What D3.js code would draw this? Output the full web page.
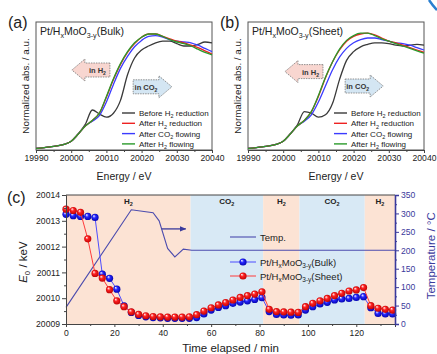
<!DOCTYPE html>
<html lang="en">
<head>
<meta charset="UTF-8">
<title>XANES and E0</title>
<style>
  body { margin: 0; background: #fff; }
  svg { display: block; font-family: "Liberation Sans", Arial, sans-serif; }
  .axis path, .axis line { stroke: #444; }
  .axis text { font-size: 8.6px; fill: #222; font-family: "Liberation Sans", Arial, sans-serif; }
  .raxis path, .raxis line { stroke: #3a3a9c; }
  .raxis text { font-size: 8.6px; fill: #3a3a9c; font-family: "Liberation Sans", Arial, sans-serif; }
</style>
</head>
<body>
<svg id="chart" width="437" height="354"></svg>
<script src="https://d3js.org/d3.v7.min.js"></script>
<script>
// ---- panels (a), (b): XANES spectra ----
var energy = [19990, 19994, 19998, 20000, 20002, 20004, 20006, 20008, 20010, 20012, 20014, 20016,
              20018, 20020, 20022, 20024, 20026, 20028, 20030, 20032, 20034, 20036, 20038, 20040];
var energyTicks = [19990, 20000, 20010, 20020, 20030, 20040];
var spectraNames = ['Before H2 reduction', 'After H2 reduction', 'After CO2 flowing', 'After H2 flowing'];

var bulkBefore  = [0.02, 0.04, 0.07, 0.11, 0.20, 0.32, 0.50, 0.45, 0.41, 0.46, 0.62, 0.94, 1.15, 1.25, 1.30, 1.34, 1.36, 1.36, 1.33, 1.30, 1.30, 1.32, 1.35, 1.34];
var bulkAfterH2 = [0.02, 0.04, 0.07, 0.11, 0.20, 0.30, 0.37, 0.46, 0.66, 0.88, 1.07, 1.22, 1.33, 1.41, 1.45, 1.45, 1.42, 1.39, 1.36, 1.34, 1.31, 1.28, 1.24, 1.20];
var bulkCO2     = [0.02, 0.04, 0.07, 0.11, 0.20, 0.30, 0.36, 0.43, 0.60, 0.82, 1.02, 1.17, 1.29, 1.37, 1.42, 1.43, 1.41, 1.38, 1.36, 1.35, 1.34, 1.31, 1.27, 1.23];
var bulkH2Flow  = [0.02, 0.04, 0.07, 0.11, 0.20, 0.30, 0.37, 0.46, 0.67, 0.89, 1.08, 1.23, 1.34, 1.41, 1.45, 1.45, 1.42, 1.38, 1.35, 1.33, 1.30, 1.26, 1.22, 1.19];

var sheetBefore  = [0.02, 0.04, 0.07, 0.11, 0.20, 0.31, 0.48, 0.46, 0.41, 0.44, 0.58, 0.88, 1.12, 1.23, 1.29, 1.32, 1.34, 1.34, 1.33, 1.31, 1.30, 1.31, 1.32, 1.31];
var sheetAfterH2 = [0.02, 0.04, 0.07, 0.11, 0.20, 0.30, 0.37, 0.48, 0.67, 0.90, 1.10, 1.25, 1.36, 1.42, 1.45, 1.46, 1.44, 1.40, 1.36, 1.34, 1.31, 1.28, 1.25, 1.22];
var sheetCO2     = [0.02, 0.04, 0.07, 0.11, 0.20, 0.30, 0.36, 0.44, 0.60, 0.80, 1.00, 1.16, 1.27, 1.34, 1.38, 1.40, 1.40, 1.38, 1.36, 1.34, 1.33, 1.31, 1.28, 1.25];
var sheetH2Flow  = [0.02, 0.04, 0.07, 0.11, 0.20, 0.30, 0.37, 0.48, 0.68, 0.91, 1.10, 1.26, 1.37, 1.43, 1.46, 1.46, 1.43, 1.39, 1.36, 1.33, 1.30, 1.27, 1.24, 1.21];

// ---- panel (c): edge energy vs time ----
var time = [0, 3, 6, 9, 12, 15, 18, 21, 24, 27, 30, 33, 36, 39, 42, 45, 48, 51, 54, 57, 60, 63, 66, 69, 72, 75, 78, 81,
            84, 87, 90, 93, 96, 99, 102, 105, 108, 111, 114, 117, 120, 123, 126, 129, 132, 135];
var e0Bulk = [20013.25, 20013.20, 20013.17, 20013.17, 20013.13, 20010.93, 20010.77, 20010.35, 20009.70, 20009.45,
              20009.33, 20009.28, 20009.25, 20009.24, 20009.22, 20009.22, 20009.22, 20009.22,
              20009.25, 20009.39, 20009.54, 20009.64, 20009.71, 20009.80, 20009.85, 20009.90, 20009.95, 20010.02,
              20009.48, 20009.37, 20009.35, 20009.34, 20009.35,
              20009.54, 20009.67, 20009.78, 20009.84, 20009.93, 20009.97, 20009.99, 20010.03, 20010.06,
              20009.63, 20009.41, 20009.39, 20009.39];
var e0Sheet = [20013.45, 20013.40, 20013.33, 20012.30, 20010.96, 20010.78, 20010.33, 20009.90, 20009.67, 20009.47,
               20009.37, 20009.32, 20009.29, 20009.28, 20009.27, 20009.27, 20009.27, 20009.28,
               20009.36, 20009.50, 20009.63, 20009.74, 20009.83, 20009.93, 20010.03, 20010.10, 20010.16, 20010.25,
               20009.57, 20009.48, 20009.47, 20009.46, 20009.45,
               20009.67, 20009.80, 20009.90, 20009.99, 20010.10, 20010.19, 20010.28, 20010.32, 20010.41,
               20009.71, 20009.61, 20009.57, 20009.54];
var tempTime = [0, 27, 36, 38.5, 42, 45, 48.5, 52, 136];
var tempVal  = [45, 310, 302, 280, 205, 182, 203, 200, 200];
var phaseGas   = ['H2', 'CO2', 'H2', 'CO2', 'H2'];
var phaseStart = [0, 51.5, 81.5, 96.5, 123.5];
var phaseEnd   = [51.5, 81.5, 96.5, 123.5, 136];
var timeTicks = [0, 20, 40, 60, 80, 100, 120];
var e0Ticks = [20009, 20010, 20011, 20012, 20013, 20014];
var tempTicks = [0, 50, 100, 150, 200, 250, 300, 350];

var svg = d3.select('#chart');
var defs = svg.append('defs');

function ballGradient(id, mid, dark) {
    var g = defs.append('radialGradient').attr('id', id)
        .attr('cx', '50%').attr('cy', '50%').attr('r', '55%').attr('fx', '32%').attr('fy', '28%');
    g.append('stop').attr('offset', '0%').attr('stop-color', '#ffffff');
    g.append('stop').attr('offset', '40%').attr('stop-color', mid);
    g.append('stop').attr('offset', '100%').attr('stop-color', dark);
}
ballGradient('ballRed', '#ff2222', '#b80000');
ballGradient('ballBlue', '#2828ff', '#0000a8');

// text with subscripts: parts = [[text, 'sub'|'it'|'']]
function rich(sel, parts, fs) {
    var shift = 0;
    parts.forEach(function (p) {
        var t = sel.append('tspan').text(p[0]);
        var want = p[1] === 'sub' ? fs * 0.3 : 0;
        t.attr('dy', want - shift);
        shift = want;
        if (p[1] === 'sub') t.attr('font-size', fs * 0.68);
        if (p[1] === 'it') t.attr('font-style', 'italic');
    });
}
function gasParts(name) {
    if (name.indexOf('CO2') >= 0) {
        var i = name.indexOf('CO2');
        return [[name.slice(0, i) + 'CO', ''], ['2', 'sub'], [name.slice(i + 3), '']];
    }
    var j = name.indexOf('H2');
    return [[name.slice(0, j) + 'H', ''], ['2', 'sub'], [name.slice(j + 2), '']];
}
function sampleParts(kind) {
    return [['Pt/H', ''], ['x', 'sub'], ['MoO', ''], ['3-y', 'sub'], ['(' + kind + ')', '']];
}

var spectraColors = ['#3a3a3a', '#ee2222', '#3b3bff', '#2b9a2b'];

function bigArrow(g, xTip, xTail, yc, fill) {
    var dir = xTip < xTail ? -1 : 1;
    var head = 13, bh = 7, hh = 11;
    var xb = xTip - dir * head;
    var p = d3.path();
    p.moveTo(xTail, yc - bh); p.lineTo(xb, yc - bh); p.lineTo(xb, yc - hh);
    p.lineTo(xTip, yc); p.lineTo(xb, yc + hh); p.lineTo(xb, yc + bh);
    p.lineTo(xTail, yc + bh); p.closePath();
    g.append('path').attr('d', p.toString()).attr('fill', fill)
        .attr('stroke', '#777').attr('stroke-width', 0.8).attr('stroke-dasharray', '1.5,1');
    return (xTail + xb) / 2;
}

function drawSpectrum(left, tag, kind, series, arrows) {
    var x = d3.scaleLinear().domain([19990, 20040]).range([left, left + 176]);
    var y = d3.scaleLinear().domain([0, 1.6]).range([150, 22]);
    var g = svg.append('g');

    g.append('rect').attr('x', x(19990)).attr('y', y(1.6))
        .attr('width', x(20040) - x(19990)).attr('height', y(0) - y(1.6))
        .attr('fill', 'none').attr('stroke', '#555').attr('stroke-width', 1);

    g.append('g').attr('class', 'axis').attr('transform', 'translate(0,150)')
        .call(d3.axisBottom(x).tickValues(energyTicks).tickFormat(d3.format('d')).tickSize(3).tickPadding(2));
    g.append('g').attr('class', 'axis').attr('transform', 'translate(0,150)')
        .call(d3.axisBottom(x).tickValues([19995, 20005, 20015, 20025, 20035]).tickSize(2).tickFormat(''))
        .select('.domain').remove();

    g.append('text').attr('x', x(20015)).attr('y', 180).attr('text-anchor', 'middle')
        .attr('font-size', 10.5).attr('fill', '#222').text('Energy / eV');
    g.append('text').attr('transform', 'translate(' + (left - 7) + ',' + y(0.8) + ') rotate(-90)')
        .attr('text-anchor', 'middle').attr('font-size', 9.8).attr('fill', '#222')
        .text('Normalized abs. / a.u.');
    g.append('text').attr('x', left - 28).attr('y', 28).attr('font-size', 16).attr('fill', '#222').text(tag);
    rich(g.append('text').attr('x', left + 4).attr('y', 35).attr('font-size', 10.5).attr('fill', '#222'),
        sampleParts(kind), 10.5);

    // annotation arrows
    arrows.forEach(function (a) {
        var cx = bigArrow(g, x(a.tip), x(a.tail), y(a.v), a.fill);
        rich(g.append('text').attr('x', cx).attr('y', y(a.v) + 3).attr('text-anchor', 'middle')
            .attr('font-size', 7.5).attr('font-weight', 'bold').attr('fill', '#333'), gasParts(a.label), 7.5);
    });

    var line = d3.line().x(function (d, i) { return x(energy[i]); }).y(function (d) { return y(d); })
        .curve(d3.curveMonotoneX);
    [0, 2, 1, 3].forEach(function (k) {
        g.append('path').attr('d', line(series[k])).attr('fill', 'none')
            .attr('stroke', spectraColors[k]).attr('stroke-width', 1.3);
    });

    // legend
    spectraNames.forEach(function (n, k) {
        var ly = 113 + k * 10.3;
        g.append('line').attr('x1', left + 86).attr('x2', left + 99).attr('y1', ly).attr('y2', ly)
            .attr('stroke', spectraColors[k]).attr('stroke-width', 1.4);
        rich(g.append('text').attr('x', left + 103).attr('y', ly + 3).attr('font-size', 8).attr('fill', '#222'),
            gasParts(n), 8);
    });
}

drawSpectrum(36, '(a)', 'Bulk', [bulkBefore, bulkAfterH2, bulkCO2, bulkH2Flow], [
    { tip: 20000.2, tail: 20011, v: 1.0, fill: '#f8d6d0', label: 'in H2' },
    { tip: 20028.6, tail: 20017.6, v: 0.79, fill: '#d4e6f3', label: 'in CO2' }
]);
drawSpectrum(248, '(b)', 'Sheet', [sheetBefore, sheetAfterH2, sheetCO2, sheetH2Flow], [
    { tip: 20000.5, tail: 20011.3, v: 0.98, fill: '#f8d6d0', label: 'in H2' },
    { tip: 20028.4, tail: 20017.6, v: 0.8, fill: '#d4e6f3', label: 'in CO2' }
]);

// ---- panel (c) ----
var xc = d3.scaleLinear().domain([0, 136]).range([66, 395]);
var yl = d3.scaleLinear().domain([20009, 20014]).range([324, 195]);
var yr = d3.scaleLinear().domain([0, 350]).range([324, 195]);
var gc = svg.append('g');
var navy = '#3a3a9c';

phaseGas.forEach(function (gas, i) {
    gc.append('rect').attr('x', xc(phaseStart[i])).attr('y', yl(20014))
        .attr('width', xc(phaseEnd[i]) - xc(phaseStart[i])).attr('height', yl(20009) - yl(20014))
        .attr('fill', gas === 'H2' ? '#fce3d4' : '#d8e9f5');
    rich(gc.append('text').attr('x', xc((phaseStart[i] + phaseEnd[i]) / 2)).attr('y', 204)
        .attr('text-anchor', 'middle').attr('font-size', 8).attr('font-weight', 'bold').attr('fill', '#222'),
        gasParts(gas), 8);
});

// temperature
var tline = d3.line().x(function (d, i) { return xc(tempTime[i]); }).y(function (d) { return yr(d); });
gc.append('path').attr('d', tline(tempVal)).attr('fill', 'none').attr('stroke', '#4c4cae').attr('stroke-width', 1.1);
defs.append('marker').attr('id', 'head').attr('viewBox', '0 0 10 10').attr('refX', 9).attr('refY', 5)
    .attr('markerWidth', 5).attr('markerHeight', 5).attr('orient', 'auto')
    .append('path').attr('d', 'M0,1 L10,5 L0,9 z').attr('fill', navy);
gc.append('line').attr('x1', xc(39.5)).attr('x2', xc(49.5)).attr('y1', yr(258)).attr('y2', yr(258))
    .attr('stroke', navy).attr('stroke-width', 1.3).attr('marker-end', 'url(#head)');

// E0 series
function drawE0(vals, color, grad) {
    var l = d3.line().x(function (d, i) { return xc(time[i]); }).y(function (d) { return yl(d); });
    gc.append('path').attr('d', l(vals)).attr('fill', 'none').attr('stroke', color).attr('stroke-width', 1);
    gc.selectAll(null).data(vals).enter().append('circle')
        .attr('cx', function (d, i) { return xc(time[i]); })
        .attr('cy', function (d) { return yl(d); })
        .attr('r', 3.6).attr('fill', 'url(#' + grad + ')');
}
drawE0(e0Bulk, '#4d4dff', 'ballBlue');
drawE0(e0Sheet, '#ff3b3b', 'ballRed');

// frame & axes
gc.append('line').attr('x1', xc(0)).attr('x2', xc(136)).attr('y1', yl(20014)).attr('y2', yl(20014))
    .attr('stroke', '#444');
gc.append('g').attr('class', 'axis').attr('transform', 'translate(0,324)')
    .call(d3.axisBottom(xc).tickValues(timeTicks).tickSize(3).tickPadding(3));
gc.append('g').attr('class', 'axis').attr('transform', 'translate(0,324)')
    .call(d3.axisBottom(xc).tickValues([10, 30, 50, 70, 90, 110, 130]).tickSize(2).tickFormat(''))
    .select('.domain').remove();
gc.append('g').attr('class', 'axis').attr('transform', 'translate(66,0)')
    .call(d3.axisLeft(yl).tickValues(e0Ticks).tickFormat(d3.format('d')).tickSize(4).tickPadding(2));
gc.append('g').attr('class', 'axis').attr('transform', 'translate(66,0)')
    .call(d3.axisLeft(yl).tickValues([20009.5, 20010.5, 20011.5, 20012.5, 20013.5]).tickSize(2).tickFormat(''))
    .select('.domain').remove();
gc.append('g').attr('class', 'raxis').attr('transform', 'translate(395,0)')
    .call(d3.axisRight(yr).tickValues(tempTicks).tickSize(4).tickPadding(2));
gc.append('g').attr('class', 'raxis').attr('transform', 'translate(395,0)')
    .call(d3.axisRight(yr).tickValues([25, 75, 125, 175, 225, 275, 325]).tickSize(2).tickFormat(''))
    .select('.domain').remove();
gc.selectAll('.raxis .domain').attr('stroke-width', 1.6);

gc.append('text').attr('x', 7).attr('y', 203).attr('font-size', 16).attr('fill', '#222').text('(c)');
rich(gc.append('text').attr('transform', 'translate(27,' + yl(20011.4) + ') rotate(-90)')
    .attr('text-anchor', 'middle').attr('font-size', 11.5).attr('fill', '#222'),
    [['E', 'it'], ['0', 'sub'], [' / keV', '']], 11.5);
gc.append('text').attr('transform', 'translate(435,' + yr(185) + ') rotate(-90)')
    .attr('text-anchor', 'middle').attr('font-size', 11.5).attr('fill', navy).text('Temperature / \u00B0C');
gc.append('text').attr('x', xc(68)).attr('y', 352).attr('text-anchor', 'middle')
    .attr('font-size', 11.5).attr('fill', '#222').text('Time elapsed  / min');

// legend (c)
gc.append('line').attr('x1', 230).attr('x2', 256).attr('y1', 237).attr('y2', 237)
    .attr('stroke', '#4c4cae').attr('stroke-width', 1.1);
gc.append('text').attr('x', 260).attr('y', 240.5).attr('font-size', 9.5).attr('fill', '#222').text('Temp.');
[['Bulk', '#4d4dff', 'ballBlue', 262], ['Sheet', '#ff3b3b', 'ballRed', 276]].forEach(function (r) {
    gc.append('line').attr('x1', 230).attr('x2', 256).attr('y1', r[3]).attr('y2', r[3])
        .attr('stroke', r[1]).attr('stroke-width', 1);
    gc.append('circle').attr('cx', 243).attr('cy', r[3]).attr('r', 3.6).attr('fill', 'url(#' + r[2] + ')');
    rich(gc.append('text').attr('x', 260).attr('y', r[3] + 3.5).attr('font-size', 9.5).attr('fill', '#222'),
        sampleParts(r[0]), 9.5);
});

// cropped decoration at top-right corner of the figure
svg.append('path').attr('d', 'M429,0 Q433,6 437,10').attr('fill', 'none')
    .attr('stroke', '#2a7fd0').attr('stroke-width', 2.5);
</script>
</body>
</html>
